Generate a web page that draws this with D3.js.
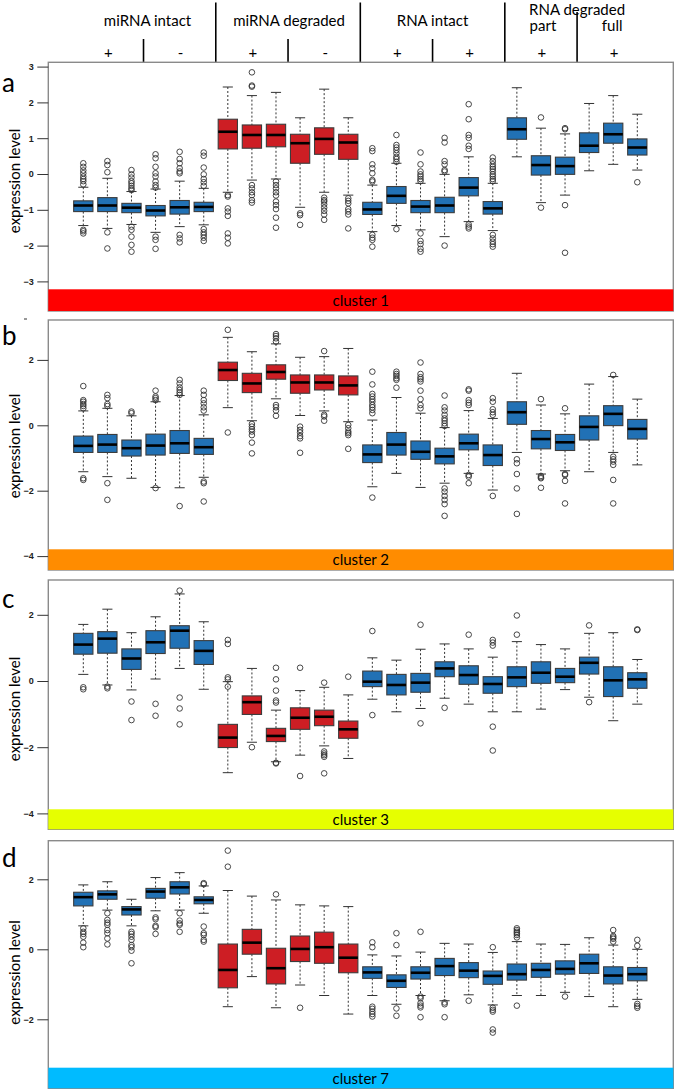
<!DOCTYPE html>
<html><head><meta charset="utf-8">
<script src="https://cdn.jsdelivr.net/npm/d3@7"></script>
<style>body{margin:0;background:#fff}svg{display:block}</style>
</head><body>
<svg id="chart" width="675" height="1091"></svg>
<script>
// ---------- data ----------
const groupLabels = ["miRNA intact", "miRNA degraded", "RNA intact", "RNA degraded"];
const subLabels = ["part", "full"];
const signs = ["+", "-", "+", "-", "+", "+", "+", "+"];
const boxGroup = ["i","i","i","i","i","i","d","d","d","d","d","d","i","i","i","i","i","i","i","i","i","i","i","i"];
const clusterNames = ["cluster 1", "cluster 2", "cluster 3", "cluster 7"];
const panelLetters = ["a", "b", "c", "d"];
const ticksA = [-3, -2, -1, 0, 1, 2, 3];
const ticksB = [-4, -2, 0, 2];
const ticksC = [-4, -2, 0, 2];
const ticksD = [-2, 0, 2];

// [lower whisker, Q1, median, Q3, upper whisker]
const statsA = [
 [-1.44,-1.05,-0.88,-0.75,-0.37],[-1.52,-1.05,-0.88,-0.66,-0.12],[-1.41,-1.08,-0.94,-0.82,-0.49],
 [-1.63,-1.17,-1.02,-0.88,-0.42],[-1.47,-1.12,-0.93,-0.74,-0.20],[-1.42,-1.05,-0.92,-0.79,-0.40],
 [-0.51,0.70,1.18,1.53,2.43],[-0.17,0.72,1.09,1.37,2.19],[-0.14,0.76,1.09,1.39,2.28],
 [-0.93,0.30,0.86,1.11,1.57],[-0.51,0.55,0.98,1.29,2.37],[-0.59,0.41,0.88,1.11,1.57],
 [-1.61,-1.13,-0.99,-0.79,-0.31],[-1.44,-0.82,-0.61,-0.35,0.30],[-1.56,-1.08,-0.91,-0.74,-0.26],
 [-1.75,-1.08,-0.88,-0.65,-0.01],[-1.33,-0.61,-0.38,-0.10,0.48],[-1.58,-1.12,-0.96,-0.77,-0.26],
 [0.48,0.97,1.25,1.57,2.41],[-0.80,-0.03,0.25,0.51,1.28],[-0.59,-0.01,0.22,0.47,1.12],
 [0.09,0.60,0.79,1.15,1.97],[0.27,0.86,1.11,1.42,2.19],[0.11,0.53,0.74,0.98,1.67]
];
const outliersA = [
 [0.3,0.2,0.1,0.02,-0.07,-0.14,-0.2,-0.29,-1.56,-1.6,-1.66],
 [0.36,0.25,0.05,-1.63,-2.08],
 [0.11,-0.01,-0.1,-0.2,-0.26,-0.33,-0.4,-0.45,-1.47,-1.56,-1.75,-1.98,-2.17],
 [0.55,0.44,0.2,0.02,-0.07,-0.21,-0.31,-0.38,-1.75,-1.84,-2.09],
 [0.62,0.42,0.3,0.16,0.07,0.02,-1.7,-1.8,-1.91],
 [0.6,0.51,0.18,-0.01,-0.14,-0.23,-0.33,-1.54,-1.63,-1.7,-1.78,-1.87],
 [-0.59,-0.63,-0.96,-1.05,-1.17,-1.66,-1.78,-1.94],
 [2.84,2.47,2.44,-0.31,-0.4,-0.51,-0.59,-0.73,-0.8],
 [-0.21,-0.31,-0.4,-0.51,-0.6,-0.77,-0.87,-0.98,-1.22,-1.5],
 [-1.1,-1.15,-1.42],
 [-0.66,-0.73,-0.77,-0.85,-0.94,-1.03,-1.13,-1.28],
 [-0.68,-0.75,-0.82,-0.98,-1.05,-1.13,-1.52],
 [0.72,0.64,0.27,0.16,0.02,-0.17,-0.21,-1.7,-1.78,-1.84,-2.03],
 [1.09,0.81,0.74,0.67,0.58,0.48,0.42,0.34,-1.54],
 [0.6,0.27,0.07,-0.01,-0.07,-0.14,-0.2,-1.66,-1.87,-1.96,-2.09,-2.17],
 [1.01,0.88,0.36,0.27,0.11,0.07,-2.0],
 [1.95,1.53,1.09,1.01,0.79,0.7,-1.41,-1.47,-1.52],
 [0.46,0.36,0.27,0.2,0.14,0.07,-0.01,-0.07,-0.14,-0.2,-1.7,-1.8,-1.89,-1.96,-2.03],
 [],
 [1.58,-0.94],
 [1.28,1.25,-0.87,-2.2],
 [],
 [],
 [-0.23]
];

const statsB = [
 [-1.42,-0.83,-0.63,-0.33,0.44],[-1.57,-0.83,-0.59,-0.28,0.52],[-1.62,-0.94,-0.70,-0.45,0.29],
 [-1.90,-0.91,-0.62,-0.27,0.72],[-1.91,-0.86,-0.55,-0.16,0.91],[-1.59,-0.89,-0.67,-0.40,0.32],
 [0.54,1.37,1.69,1.93,2.69],[0.14,1.00,1.28,1.59,2.25],[0.81,1.41,1.63,1.85,2.49],
 [0.30,0.98,1.31,1.54,2.08],[0.44,1.08,1.31,1.54,2.10],[0.11,0.93,1.22,1.51,2.35],
 [-1.88,-1.14,-0.89,-0.60,0.16],[-1.47,-0.91,-0.59,-0.22,0.85],[-1.90,-1.04,-0.81,-0.48,0.37],
 [-1.77,-1.18,-0.95,-0.70,-0.07],[-1.47,-0.75,-0.55,-0.27,0.45],[-1.98,-1.23,-0.91,-0.60,0.21],
 [-0.83,0.03,0.40,0.72,1.59],[-1.49,-0.72,-0.42,-0.16,0.62],[-1.39,-0.77,-0.52,-0.28,0.35],
 [-1.42,-0.45,-0.05,0.29,1.26],[-0.83,-0.01,0.35,0.60,1.49],[-1.21,-0.42,-0.11,0.18,0.80]
];
const outliersB = [
 [1.2,0.77,0.72,0.65,0.59,0.52,-1.62,-1.67],
 [0.93,0.83,0.65,0.59,-1.77,-2.28],
 [0.42,0.37],
 [1.06,0.88,0.83,0.77,-1.92],
 [1.39,1.28,1.16,1.08,1.0,0.93,-2.47],
 [1.06,0.93,0.77,0.67,0.55,0.45,-1.72,-1.77,-2.33],
 [2.92,-0.22],
 [0.04,-0.04,-0.12,-0.19,-0.3,-0.53,-0.86],
 [2.79,2.73,2.66,2.56,0.62,0.55,0.45,0.29],
 [-0.04,-0.14,-0.22,-0.33,-0.4,-0.84],
 [2.27,0.32,0.27,0.14],
 [0.01,-0.09,-0.19,-0.24,-0.3,-0.72],
 [1.64,1.25,0.96,0.88,0.8,0.72,0.62,0.55,0.47,0.37,-2.21],
 [1.64,1.57,1.51,1.44,1.39,1.15],
 [1.92,1.57,1.47,1.41,1.34,1.06,0.8,0.62,0.52],
 [0.91,0.55,0.45,0.32,0.21,0.14,0.06,-0.02,-1.93,-2.03,-2.16,-2.28,-2.41,-2.77],
 [1.1,1.06,0.77,0.69,0.62,-1.52,-1.57,-1.77],
 [0.83,0.72,0.49,0.4,0.32,-2.16],
 [-1.04,-1.16,-1.49,-1.93,-2.71],
 [0.8,-1.55,-1.59,-1.62,-1.91],
 [0.52,-1.49,-1.52,-1.7,-2.39],
 [],
 [1.54,-0.96,-1.04,-1.11,-1.21,-1.67,-2.39],
 []
];

const statsC = [
 [0.20,0.81,1.10,1.44,1.71],[-0.12,0.84,1.28,1.49,2.17],[-0.27,0.35,0.68,0.97,1.46],
 [0.06,0.83,1.17,1.52,1.94],[0.38,0.99,1.52,1.67,2.63],[-0.25,0.50,0.91,1.22,1.79],
 [-2.77,-2.01,-1.71,-1.31,-0.02],[-1.85,-1.01,-0.64,-0.45,0.38],[-2.44,-1.83,-1.66,-1.43,-0.88],
 [-2.24,-1.46,-1.11,-0.81,-0.29],[-1.96,-1.35,-1.08,-0.88,-0.19],[-2.34,-1.73,-1.46,-1.21,-0.42],
 [-0.55,-0.17,-0.02,0.30,0.70],[-0.93,-0.42,-0.12,0.20,0.63],[-0.83,-0.34,-0.05,0.23,0.96],
 [-0.52,0.13,0.38,0.58,1.12],[-0.70,-0.10,0.18,0.46,0.97],[-0.93,-0.37,-0.09,0.13,0.72],
 [-0.93,-0.17,0.11,0.43,1.19],[-0.85,-0.07,0.25,0.58,1.10],[-0.26,-0.05,0.13,0.38,0.97],
 [-0.49,0.21,0.55,0.72,1.44],[-1.20,-0.47,0.02,0.43,1.46],[-0.70,-0.22,0.05,0.25,0.65]
];
const outliersC = [
 [-0.19,-0.25],[-0.17,-0.22],[-0.62,-1.18],[-0.69,-1.05],[2.73,-0.5,-0.83,-1.31],[],
 [1.24,1.12,0.11,0.05,-0.17],[-2.0],[0.4,0.05,-0.29,-0.59,-0.65,-2.47,-2.49],
 [0.4,-2.87],[-0.05,-2.13,-2.19,-2.24,-2.29,-2.79],[0.13],
 [1.51,-1.03],[],[1.7,-1.28],[-0.81],[1.4],[1.24,1.16,1.07,-1.38,-2.1],
 [1.98,1.4],[],[],[1.68,-0.64],[],[1.56,1.54]
];

const statsD = [
 [0.67,1.24,1.49,1.63,1.84],[1.12,1.43,1.57,1.67,1.93],[0.67,0.98,1.14,1.22,1.43],
 [1.10,1.46,1.65,1.74,2.05],[1.12,1.58,1.77,1.93,2.19],[1.03,1.30,1.41,1.50,1.81],
 [-1.64,-1.10,-0.59,0.15,1.68],[-0.78,-0.14,0.19,0.57,1.52],[-1.67,-0.99,-0.54,0.03,1.41],
 [-1.02,-0.35,0.01,0.38,1.27],[-1.32,-0.40,0.06,0.49,1.24],[-1.85,-0.67,-0.24,0.15,1.22],
 [-1.32,-0.83,-0.66,-0.50,-0.16],[-1.57,-1.09,-0.90,-0.73,-0.19],[-1.32,-0.85,-0.67,-0.50,-0.08],
 [-1.47,-0.75,-0.48,-0.26,0.17],[-1.30,-0.81,-0.61,-0.38,0.15],[-1.59,-1.00,-0.76,-0.62,-0.09],
 [-1.32,-0.88,-0.71,-0.42,0.22],[-1.32,-0.80,-0.59,-0.40,0.15],[-1.23,-0.71,-0.56,-0.33,0.14],
 [-1.35,-0.69,-0.40,-0.14,0.33],[-1.64,-0.99,-0.75,-0.50,0.12],[-1.43,-0.90,-0.71,-0.52,0.00]
];
const outliersD = [
 [0.6,0.5,0.44,0.36,0.19,0.06],
 [1.03,0.84,0.76,0.7,0.55,0.46,0.31,0.14],
 [0.5,0.44,0.36,0.27,0.12,0.06,-0.04,-0.4],
 [0.91,0.86,0.67,0.63,0.44],
 [1.03,0.82,0.74,0.7,0.5],
 [1.89,1.86,0.65,0.46,0.41,0.27,0.22],
 [2.82,2.36],[],[1.57],[-1.67],[],[],
 [0.2,0.06,-1.64,-1.7,-1.78,-1.85,-1.92],
 [0.46,0.12,-1.69,-1.9],
 [0.5,-1.35,-1.4,-1.54,-1.61,-1.66,-1.94],
 [-1.52,-1.57,-1.94],
 [-1.47],
 [0.06,-1.67,-1.73,-1.78,-2.29,-2.38],
 [0.6,0.55,0.5,0.46,0.41,0.34,-1.61],
 [],
 [-1.35],
 [],
 [0.55,0.38,0.34,0.3,0.22],
 [0.27,0.1,-1.56,-1.62,-1.67]
];

// ---------- layout ----------
const svg = d3.select("#chart");
const frameL = 48.3, frameR = 673.3;
const x = d3.scaleLinear().domain([1, 24]).range([83.3, 637.3]);
const unitW = x(2) - x(1);
const boxW = unitW * 0.8;
const capW = unitW * 0.42;
const colors = { i: "#2171B5", d: "#CD1E24" };
const txtFont = "Lato, 'Open Sans', sans-serif";

// header
const hdr = svg.append("g");
const majorPos = [6.5, 12.5, 18.5];
const minorPos = [3.5, 9.5, 15.5];
majorPos.forEach(p => hdr.append("line").attr("x1", x(p)).attr("x2", x(p)).attr("y1", 2.5).attr("y2", 62.3)
  .attr("stroke", "#000").attr("stroke-width", 1.6));
minorPos.forEach(p => hdr.append("line").attr("x1", x(p)).attr("x2", x(p)).attr("y1", 39).attr("y2", 62.3)
  .attr("stroke", "#000").attr("stroke-width", 1.6));
hdr.append("line").attr("x1", x(21.5)).attr("x2", x(21.5)).attr("y1", 12).attr("y2", 62.3)
  .attr("stroke", "#000").attr("stroke-width", 1.6);
const labelNudge = [4, 1, 0, 0];
groupLabels.forEach((g, i) => {
  const cx = x(6 * i + 3.5) + labelNudge[i];
  hdr.append("text").attr("x", cx).attr("y", i === 3 ? 14.5 : 26)
    .attr("text-anchor", "middle").attr("font-family", txtFont).attr("font-size", 15).text(g);
});
subLabels.forEach((s, i) => {
  hdr.append("text").attr("x", x(20 + 3 * i) + (i === 1 ? -1 : 2)).attr("y", 30.5)
    .attr("text-anchor", "middle").attr("font-family", txtFont).attr("font-size", 15).text(s);
});
signs.forEach((s, i) => {
  hdr.append("text").attr("x", x(3 * i + 2) + 1).attr("y", 58)
    .attr("text-anchor", "middle").attr("font-family", txtFont).attr("font-size", 15).text(s);
});

// panels: layout only
const panels = [
  { stats: statsA, outs: outliersA, ticks: ticksA, top: 62.3, barTop: 289.3, barBot: 311, y0: 174, unit: 35.8, color: "#FF0000", letterY: 92, labY: 181 },
  { stats: statsB, outs: outliersB, ticks: ticksB, top: 320, barTop: 549.3, barBot: 570, y0: 425.3, unit: 32.7, color: "#FF8C00", letterY: 345, labY: 446 },
  { stats: statsC, outs: outliersC, ticks: ticksC, top: 580, barTop: 809.3, barBot: 829.3, y0: 681, unit: 33.1, color: "#E6FF00", letterY: 608, labY: 709 },
  { stats: statsD, outs: outliersD, ticks: ticksD, top: 840.7, barTop: 1067.7, barBot: 1088.3, y0: 949.3, unit: 35, color: "#00BBFF", letterY: 867, labY: 972.5 }
];

// small stray dash left of panel b (present in the reference)
svg.append("line").attr("x1", 24).attr("x2", 27).attr("y1", 319).attr("y2", 319)
  .attr("stroke", "#333").attr("stroke-width", 1);

panels.forEach((p, pi) => {
  const g = svg.append("g");
  const yTop = (p.y0 - p.top) / p.unit, yBot = (p.y0 - p.barBot) / p.unit;
  const y = d3.scaleLinear().domain([yBot, yTop]).range([p.barBot, p.top]);

  // frame
  g.append("rect").attr("x", frameL).attr("y", p.top).attr("width", frameR - frameL).attr("height", p.barBot - p.top)
    .attr("fill", "#fff").attr("stroke", "#8a8a8a").attr("stroke-width", 1.4);

  // axis
  const ax = d3.axisLeft(y).tickValues(p.ticks).tickSize(11).tickPadding(3.5).tickFormat(d3.format("d"));
  const axG = g.append("g").attr("transform", `translate(${frameL},0)`).call(ax);
  axG.select(".domain").remove();
  axG.selectAll(".tick line").attr("stroke", "#333").attr("stroke-width", 1);
  axG.selectAll(".tick text").attr("font-family", "'Liberation Sans', Arial, sans-serif")
    .attr("font-size", 9).attr("font-weight", "bold").attr("fill", "#222");

  // boxes
  p.stats.forEach((s, i) => {
    const cx = x(i + 1);
    const [lo, q1, md, q3, hi] = s;
    const bg = g.append("g");
    bg.append("line").attr("x1", cx).attr("x2", cx).attr("y1", y(hi)).attr("y2", y(q3))
      .attr("stroke", "#333").attr("stroke-dasharray", "2,2").attr("stroke-width", 1);
    bg.append("line").attr("x1", cx).attr("x2", cx).attr("y1", y(q1)).attr("y2", y(lo))
      .attr("stroke", "#333").attr("stroke-dasharray", "2,2").attr("stroke-width", 1);
    [lo, hi].forEach(v => bg.append("line").attr("x1", cx - capW / 2).attr("x2", cx + capW / 2)
      .attr("y1", y(v)).attr("y2", y(v)).attr("stroke", "#333").attr("stroke-width", 1));
    bg.append("rect").attr("x", cx - boxW / 2).attr("y", y(q3)).attr("width", boxW).attr("height", y(q1) - y(q3))
      .attr("fill", colors[boxGroup[i]]).attr("stroke", "#3c3c3c").attr("stroke-width", 1.1);
    bg.append("line").attr("x1", cx - boxW / 2).attr("x2", cx + boxW / 2).attr("y1", y(md)).attr("y2", y(md))
      .attr("stroke", "#000").attr("stroke-width", 2.6);
    bg.selectAll("circle").data(p.outs[i]).join("circle")
      .attr("cx", cx).attr("cy", d => y(d)).attr("r", 2.8)
      .attr("fill", "none").attr("stroke", "#333").attr("stroke-width", 0.9);
  });

  // cluster bar
  g.append("rect").attr("x", frameL).attr("y", p.barTop).attr("width", frameR - frameL).attr("height", p.barBot - p.barTop)
    .attr("fill", p.color);
  g.append("text").attr("x", (frameL + frameR) / 2).attr("y", (p.barTop + p.barBot) / 2 + 5.5)
    .attr("text-anchor", "middle").attr("font-family", txtFont).attr("font-size", 15).attr("fill", "#000")
    .text(clusterNames[pi]);

  // letter
  g.append("text").attr("x", 2).attr("y", p.letterY).attr("font-family", txtFont).attr("font-size", 26)
    .text(panelLetters[pi]);
  // y label
  g.append("text").attr("transform", `translate(19.5,${p.labY}) rotate(-90)`).attr("text-anchor", "middle")
    .attr("font-family", txtFont).attr("font-size", 15).text("expression level");
});
</script>
</body></html>
